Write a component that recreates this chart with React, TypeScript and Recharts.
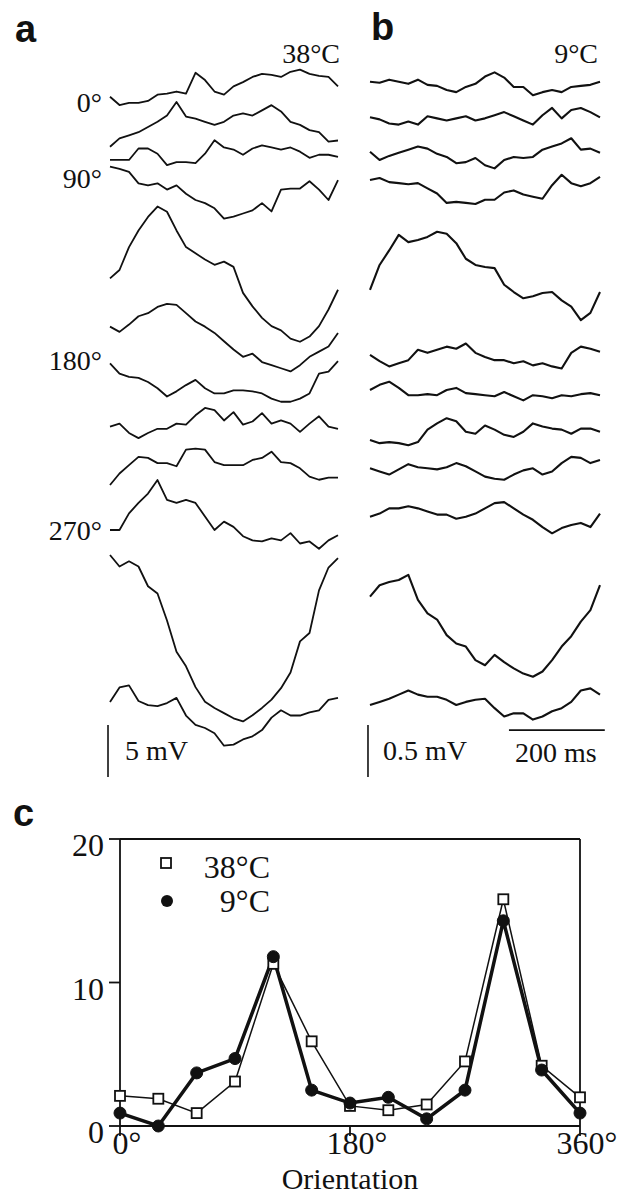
import { LineChart, Line, XAxis, YAxis, ReferenceLine, Legend } from "recharts";

const serif = '"Liberation Serif", "Times New Roman", serif';
const sans = '"Liberation Sans", Arial, sans-serif';

// time base of the traces (ms)
const times = [0, 20, 40, 60, 80, 100, 120, 140, 160, 180, 200, 220, 240, 260, 280, 300, 320, 340, 360, 380, 400, 420, 440, 460, 480];

// panel a, 38°C, traces in mV relative to each trace's start
const a0 = [0, -0.8, -0.6, -0.6, -0.4, 0.2, 0.3, 0.5, 0.3, 2.3, 1.6, 0.5, 0.2, 1.0, 1.4, 1.9, 2.2, 2.1, 1.9, 2.4, 2.6, 2.2, 2.0, 1.9, 1.0];
const a1 = [0, 0.8, 1.1, 1.4, 1.9, 2.4, 3.0, 4.3, 2.9, 2.7, 2.4, 2.1, 2.4, 3.0, 3.2, 3.0, 3.5, 4.0, 3.4, 2.4, 2.1, 1.6, 1.4, 0.5, 0.6];
const a2 = [0, 0, 0, 1.1, 1.1, 0.6, -0.5, -0.2, -0.2, -0.3, 0.6, 1.9, 1.2, 1.0, 0.5, 1.1, 1.4, 1.2, 1.0, 1.2, 0.8, 0.2, 0.5, 0.5, 0.3];
const a3 = [0, -0.2, -0.5, -1.6, -1.8, -1.6, -2.2, -1.8, -2.6, -3.2, -3.5, -4.0, -5.0, -4.8, -4.5, -4.2, -3.5, -4.3, -2.2, -2.1, -2.1, -1.4, -2.2, -3.2, -1.3];
const a4 = [0, 0.8, 3.0, 4.6, 5.9, 6.9, 6.4, 4.6, 3.0, 2.4, 1.8, 1.3, 1.6, 1.1, -1.4, -2.7, -3.8, -4.6, -5.0, -5.8, -6.1, -5.6, -4.6, -3.0, -1.1];
const a5 = [0, -0.5, 0.2, 1.0, 1.3, 1.9, 2.2, 2.1, 1.3, 0.5, 0, -0.6, -1.4, -2.2, -2.9, -2.6, -3.4, -3.7, -4.0, -4.3, -3.7, -2.9, -2.4, -1.9, -0.6];
const a6 = [0, -1.0, -1.3, -1.4, -1.8, -2.4, -3.2, -2.7, -2.1, -1.6, -2.4, -2.9, -2.9, -2.6, -2.6, -2.7, -2.9, -3.4, -3.7, -3.7, -3.4, -2.9, -1.0, -0.8, 0.2];
const a7 = [0, 0.3, -0.6, -1.1, -0.6, -0.2, -0.2, 0.3, 0.2, 1.1, 1.8, 1.6, 0.6, 1.4, 0.2, 0.5, 1.3, 0.3, 0.6, 0.3, -0.5, 0.3, 1.0, 0, -0.2];
const a8 = [0, 1.1, 1.9, 2.7, 2.6, 2.1, 2.1, 1.8, 3.4, 3.5, 3.4, 2.2, 1.9, 1.9, 1.9, 2.4, 2.6, 3.2, 2.2, 2.1, 1.6, 0.8, 0.5, 0.7, 0.7];
const a9 = [0, 0, 1.6, 2.6, 3.5, 4.8, 2.9, 2.6, 2.9, 2.6, 1.3, 0, 0.8, 0.3, -0.6, -1.0, -1.1, -0.8, -1.0, -0.3, -1.3, -1.1, -1.8, -1.0, -0.5];
const a10 = [0, -1.1, -0.6, -1.1, -3.0, -3.7, -6.3, -9.3, -10.7, -12.7, -14.1, -14.7, -15.2, -15.7, -16.0, -15.4, -14.7, -13.9, -12.8, -11.3, -8.3, -7.5, -3.4, -1.2, -0.3];
const a11 = [0, 1.4, 1.6, 0.1, -0.3, -0.4, -0.1, 0.4, -1.3, -2.2, -2.5, -3.0, -4.2, -4.1, -3.6, -3.3, -2.7, -1.5, -0.8, -1.3, -1.3, -1.0, -0.8, 0.2, 0.4];
// vertical stacking of the traces (mV)
const offsetsA = [-9.3, -14.11, -15.38, -16.03, -26.76, -31.41, -34.93, -41.03, -46.63, -50.96, -53.37, -67.5];

// panel b, 9°C
const b0 = [0, -0.01, 0.02, 0, -0.02, 0.02, -0.03, -0.04, -0.08, -0.1, -0.05, -0.02, 0.05, 0.09, 0.04, -0.05, -0.05, -0.13, -0.1, -0.08, -0.1, -0.05, -0.04, -0.03, 0];
const b1 = [0, -0.02, -0.06, -0.07, -0.04, -0.07, 0.01, -0.01, -0.03, -0.01, 0.01, -0.03, -0.01, 0.02, 0.05, 0.01, -0.03, -0.07, 0.02, 0.09, -0.01, 0.07, 0.09, 0.05, 0];
const b2 = [0, -0.08, -0.04, -0.01, 0.02, 0.05, 0.03, -0.02, -0.05, -0.11, -0.1, -0.06, -0.13, -0.16, -0.08, -0.05, -0.06, -0.05, 0.02, 0.05, 0.08, 0.13, 0.02, 0.03, -0.01];
const b3 = [0, 0.02, -0.02, -0.03, -0.04, -0.03, -0.08, -0.13, -0.22, -0.21, -0.22, -0.23, -0.19, -0.19, -0.12, -0.1, -0.14, -0.16, -0.18, -0.05, 0.05, -0.03, -0.06, -0.03, 0.03];
const b4 = [0, 0.24, 0.38, 0.53, 0.46, 0.48, 0.51, 0.56, 0.54, 0.45, 0.3, 0.24, 0.22, 0.21, 0.05, -0.02, -0.08, -0.06, -0.03, -0.02, -0.1, -0.16, -0.29, -0.22, -0.02];
const b5 = [0, -0.06, -0.11, -0.08, -0.05, 0.05, 0.02, 0.05, 0.08, 0.06, 0.11, 0.02, -0.02, -0.05, -0.05, -0.08, -0.06, -0.1, -0.08, -0.11, -0.13, 0.02, 0.08, 0.06, 0.03];
const b6 = [0, 0.05, 0.08, 0.02, -0.05, -0.05, -0.04, -0.05, 0, 0.02, -0.03, -0.04, -0.05, -0.06, -0.02, -0.06, -0.1, -0.05, -0.06, -0.08, -0.05, -0.06, -0.04, -0.03, -0.05];
const b7 = [0, -0.03, -0.02, -0.03, -0.05, -0.02, 0.1, 0.16, 0.21, 0.18, 0.08, 0.06, 0.14, 0.1, 0.05, 0.03, 0.08, 0.16, 0.13, 0.11, 0.1, 0.06, 0.11, 0.11, 0.08];
const b8 = [0, -0.03, -0.06, -0.01, 0.04, 0.01, 0, -0.01, 0.01, 0.05, 0.02, -0.03, -0.08, -0.1, -0.11, -0.06, -0.02, 0, -0.06, -0.03, 0.05, 0.11, 0.1, 0.05, 0.08];
const b9 = [0, 0.03, 0.08, 0.08, 0.1, 0.08, 0.05, 0.02, 0.02, -0.02, 0, 0.03, 0.08, 0.13, 0.14, 0.08, 0.02, -0.03, -0.1, -0.16, -0.11, -0.08, -0.06, -0.1, 0.03];
const b10 = [0, 0.11, 0.14, 0.16, 0.21, -0.03, -0.16, -0.22, -0.37, -0.45, -0.48, -0.61, -0.66, -0.56, -0.63, -0.69, -0.74, -0.77, -0.72, -0.61, -0.48, -0.38, -0.24, -0.13, 0.11];
const b11 = [0, 0.03, 0.06, 0.1, 0.14, 0.1, 0.08, 0.08, 0.05, 0, 0.03, 0.05, 0.06, -0.03, -0.11, -0.08, -0.08, -0.14, -0.11, -0.06, -0.03, 0.03, 0.14, 0.16, 0.1];
const offsetsB = [-0.786, -1.128, -1.459, -1.731, -2.788, -3.413, -3.75, -4.231, -4.503, -4.968, -5.737, -6.779];

// panel c, orientation tuning
const orientations = [0, 30, 60, 90, 120, 150, 180, 210, 240, 270, 300, 330, 360];
const resp38 = [2.1, 1.9, 0.9, 3.1, 11.3, 5.9, 1.4, 1.1, 1.5, 4.5, 15.8, 4.2, 2.0];
const resp9 = [0.9, 0, 3.7, 4.7, 11.8, 2.5, 1.6, 2.0, 0.5, 2.5, 14.3, 3.9, 0.9];

const tracesA = [a0, a1, a2, a3, a4, a5, a6, a7, a8, a9, a10, a11];
const tracesB = [b0, b1, b2, b3, b4, b5, b6, b7, b8, b9, b10, b11];

const buildRows = (traces: number[][], offsets: number[]) =>
  times.map((t, i) => {
    const row: Record<string, number> = { t };
    traces.forEach((tr, k) => {
      row[`s${k}`] = offsets[k] + tr[i];
    });
    return row;
  });

const rowsA = buildRows(tracesA, offsetsA);
const rowsB = buildRows(tracesB, offsetsB);
const cData = orientations.map((o, i) => ({ o, r38: resp38[i], r9: resp9[i] }));

const TracePanel = ({ rows, count, yMin, width, stroke, children }: any) => (
  <LineChart width={width} height={780} data={rows} margin={{ top: 0, right: 10, bottom: 0, left: 6 }}>
    <XAxis dataKey="t" type="number" domain={[0, 480]} hide />
    <YAxis type="number" domain={[yMin, 0]} hide />
    {Array.from({ length: count }, (_, k) => (
      <Line
        key={k}
        dataKey={`s${k}`}
        type="linear"
        stroke="#111"
        strokeWidth={stroke}
        strokeLinejoin="round"
        dot={false}
        activeDot={false}
        isAnimationActive={false}
      />
    ))}
    {children}
  </LineChart>
);

const SquareDot = (p: any) => (
  <rect key={`sq${p.index}`} x={p.cx - 5} y={p.cy - 5} width={10} height={10} fill="#fff" stroke="#111" strokeWidth={1.8} />
);

const txt = { fontFamily: serif };

const XTick = ({ x, y, payload }: any) => (
  <text x={x + 7} y={y + 16} textAnchor="middle" style={txt} fontSize={32} fill="#111">
    {payload.value}°
  </text>
);
const LeftTick = ({ x, y, payload }: any) => (
  <text x={x} y={y + 17} textAnchor="end" style={txt} fontSize={32} fill="#111">
    {payload.value}
  </text>
);
const RightTick = ({ x, y, payload }: any) => (
  <text x={x} y={y + 14} textAnchor="start" style={txt} fontSize={32} fill="#111">
    {payload.value === 0 ? "0" : payload.value.toFixed(1)}
  </text>
);

const renderLegend = (props: any) => {
  const items = props.payload || [];
  const name38 = items.find((it: any) => it.dataKey === "r38")?.value ?? "38°C";
  const name9 = items.find((it: any) => it.dataKey === "r9")?.value ?? "9°C";
  return (
    <svg width={130} height={80} style={{ display: "block" }}>
      <rect x={11} y={18} width={10} height={10} fill="#fff" stroke="#111" strokeWidth={1.8} />
      <text x={120} y={38} textAnchor="end" style={txt} fontSize={32} fill="#111">{name38}</text>
      <circle cx={17} cy={61} r={6} fill="#111" />
      <text x={120} y={72} textAnchor="end" style={txt} fontSize={32} fill="#111">{name9}</text>
    </svg>
  );
};

const label = (s: string, x: number, y: number, anchor: string, size = 28) => (
  <text x={x} y={y} textAnchor={anchor} style={txt} fontSize={size} fill="#111">{s}</text>
);

export default function App() {
  return (
    <div style={{ position: "absolute", left: 0, top: 0, width: 640, height: 1196, background: "#fff" }}>
      <div style={{ position: "absolute", left: 104, top: 0 }}>
        <TracePanel rows={rowsA} count={12} yMin={-75} width={244} stroke={1.8}>
          <ReferenceLine segment={[{ x: -4.2, y: -69.7 }, { x: -4.2, y: -74.7 }]} stroke="#111" strokeWidth={1.6} ifOverflow="visible" />
        </TracePanel>
      </div>
      <div style={{ position: "absolute", left: 364, top: 0 }}>
        <TracePanel rows={rowsB} count={12} yMin={-7.5} width={246} stroke={2.1}>
          <ReferenceLine segment={[{ x: -4.2, y: -6.97 }, { x: -4.2, y: -7.47 }]} stroke="#111" strokeWidth={1.6} ifOverflow="visible" />
          <ReferenceLine segment={[{ x: 290, y: -7.02 }, { x: 490, y: -7.02 }]} stroke="#111" strokeWidth={1.6} ifOverflow="visible" />
        </TracePanel>
      </div>
      <div style={{ position: "absolute", left: 0, top: 800 }}>
        <LineChart width={640} height={396} data={cData} margin={{ top: 39, right: 0, bottom: 0, left: 60 }}>
          <XAxis
            dataKey="o"
            type="number"
            domain={[0, 360]}
            ticks={[0, 180, 360]}
            height={70}
            tickSize={10}
            tickMargin={2}
            axisLine={{ stroke: "#111", strokeWidth: 1.8 }}
            tickLine={{ stroke: "#111", strokeWidth: 1.8 }}
            tick={XTick}
            label={{ value: "Orientation", position: "insideBottom", offset: 7, style: { fontFamily: serif, fontSize: 30 }, fill: "#111" }}
          />
          <YAxis
            yAxisId="left"
            type="number"
            domain={[0, 20]}
            ticks={[0, 10, 20]}
            width={60}
            tickSize={11}
            tickMargin={5}
            axisLine={{ stroke: "#111", strokeWidth: 1.8 }}
            tickLine={{ stroke: "#111", strokeWidth: 1.8 }}
            tick={LeftTick}
          />
          <YAxis
            yAxisId="right"
            orientation="right"
            type="number"
            domain={[0, 1.23]}
            ticks={[0, 0.5, 1]}
            width={60}
            tickSize={12}
            tickMargin={8}
            axisLine={{ stroke: "#111", strokeWidth: 1.8 }}
            tickLine={{ stroke: "#111", strokeWidth: 1.8 }}
            tick={RightTick}
          />
          <ReferenceLine yAxisId="left" y={20} stroke="#111" strokeWidth={2.2} />
          <Line
            yAxisId="left"
            dataKey="r38"
            name="38°C"
            type="linear"
            stroke="#111"
            strokeWidth={1.5}
            dot={SquareDot}
            activeDot={false}
            isAnimationActive={false}
          />
          <Line
            yAxisId="left"
            dataKey="r9"
            name="9°C"
            type="linear"
            stroke="#111"
            strokeWidth={3.5}
            dot={{ r: 6, fill: "#111", stroke: "#111", strokeWidth: 1 }}
            activeDot={false}
            isAnimationActive={false}
          />
          <Legend
            layout="horizontal"
            verticalAlign="middle"
            align="center"
            content={renderLegend}
            wrapperStyle={{ left: 150, top: 40, width: 130, height: 80 }}
          />
        </LineChart>
      </div>
      <svg width={640} height={1196} style={{ position: "absolute", left: 0, top: 0, pointerEvents: "none" }}>
        <text x={15} y={42} style={{ fontFamily: sans }} fontWeight="bold" fontSize={38} fill="#111">a</text>
        <text x={371} y={40} style={{ fontFamily: sans }} fontWeight="bold" fontSize={38} fill="#111">b</text>
        <text x={13} y={826} style={{ fontFamily: sans }} fontWeight="bold" fontSize={38} fill="#111">c</text>
        {label("38°C", 340, 63, "end")}
        {label("9°C", 598, 63, "end")}
        {label("0°", 102, 112, "end")}
        {label("90°", 102, 188, "end")}
        {label("180°", 102, 370, "end")}
        {label("270°", 102, 540, "end")}
        {label("5 mV", 125, 760, "start")}
        {label("0.5 mV", 383, 760, "start")}
        {label("200 ms", 515, 762, "start")}
      </svg>
    </div>
  );
}
